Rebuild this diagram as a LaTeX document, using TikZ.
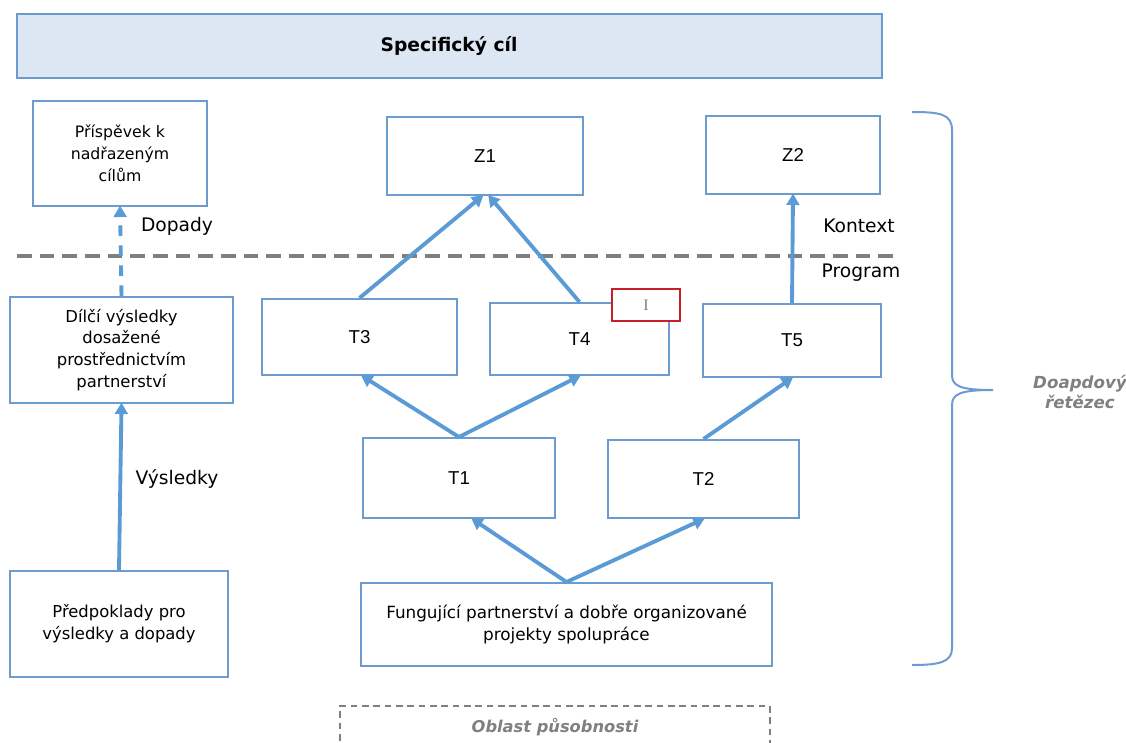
\documentclass[tikz,border=0pt]{standalone}
\usepackage{fontspec}
\setmainfont{DejaVu Sans}
\newfontfamily\arialfont{Liberation Sans}
\newfontfamily\seriffont{Liberation Serif}
\usetikzlibrary{arrows.meta,fit,decorations.pathreplacing}
\definecolor{boxblue}{HTML}{6B9BCF}
\definecolor{arrowblue}{HTML}{5B9BD5}
\definecolor{topfill}{HTML}{DCE7F3}
\definecolor{dashgray}{HTML}{7F7F7F}
\definecolor{redbox}{HTML}{C8202A}
\definecolor{txtgray}{HTML}{808080}
\tikzset{
  box/.style={draw=boxblue, line width=1.5pt, fill=white, inner sep=0pt, align=center, text=black},
  btxt/.style={align=center, font=\fontsize{12.3}{16.3}\selectfont},
  ttxt/.style={font=\arialfont\fontsize{14}{16}\selectfont},
  arr/.style={draw=arrowblue, line width=2.9pt, -{Triangle[length=8.5pt,width=9.5pt]}, shorten >=-1pt},
  darr/.style={arr, dash pattern=on 8pt off 7pt},
  lbl/.style={font=\fontsize{14}{16}\selectfont, text=black},
}
\begin{document}
\begin{tikzpicture}[x=0.75pt,y=-0.75pt]
\useasboundingbox (0,0) rectangle (1126,742);
\clip (0,0) rectangle (1126,742);
% top goal
\node[box, fill=topfill, fit={(17,14) (882,78)}] (top) {};
\node[font=\fontsize{14}{16}\selectfont\bfseries] (toptxt) at (449,46) {Specifický cíl};
% left column
\node[box, fit={(33,101) (207,206)}] (pris) {};
\node[btxt, font=\fontsize{11.8}{16.3}\selectfont] (pristxt) at (pris.center) {Příspěvek k\\nadřazeným\\cílům};
\node[box, fit={(10,297) (233,403)}] (dilci) {};
\node[btxt] (dilcitxt) at (dilci.center) {Dílčí výsledky\\dosažené\\prostřednictvím\\partnerství};
\node[box, fit={(10,571) (228,677)}] (pred) {};
\node[btxt] (predtxt) at (pred.center) {Předpoklady pro\\výsledky a dopady};
% goals
\node[box, fit={(387,117) (583,195)}] (z1) {};
\node[ttxt] (z1t) at (z1.center) {Z1};
\node[box, fit={(706,116) (880,194)}] (z2) {};
\node[ttxt] (z2t) at (z2.center) {Z2};
% T boxes
\node[box, fit={(262,299) (457,375)}] (t3) {};
\node[ttxt] (t3t) at (t3.center) {T3};
\node[box, fit={(490,303) (669,375)}] (t4) {};
\node[ttxt] (t4t) at (t4.center) {T4};
\node[box, fit={(703,304) (881,377)}] (t5) {};
\node[ttxt] (t5t) at (t5.center) {T5};
\node[box, fit={(363,438) (555,518)}] (t1) {};
\node[ttxt] (t1t) at (t1.center) {T1};
\node[box, fit={(608,440) (799,518)}] (t2) {};
\node[ttxt] (t2t) at (t2.center) {T2};
\node[box, fit={(361,583) (772,666)}] (fung) {};
\node[align=center, font=\fontsize{12.6}{17}\selectfont] (fungt) at (fung.center) {Fungující partnerství a dobře organizované\\projekty spolupráce};
% red marker box
\node[draw=redbox, line width=1.5pt, fill=white, inner sep=0pt, fit={(612,289) (680,321)}] (red) {};
\node[font=\seriffont\fontsize{12}{14}\selectfont, text=txtgray] (redt) at (red.center) {I};
% dashed separator
\coordinate (sepL) at (17,256);
\coordinate (sepR) at (900,256);
\draw[dashgray, line width=3pt, dash pattern=on 11pt off 6pt] (sepL) -- (sepR);
% labels
\node[lbl] (dopady) at (177,226) {Dopady};
\node[lbl] (vysl) at (177,479) {Výsledky};
\node[lbl] (kontext) at (859,226) {Kontext};
\node[lbl] (program) at (861,273) {Program};
% arrows
\draw[darr] (dilci.north) -- (pris.south);
\draw[arr] (pred.north) -- (dilci.south);
\draw[arr] (t3.north) -- ([xshift=-2pt]z1.south);
\draw[arr] (t4.north) -- ([xshift=3pt]z1.south);
\draw[arr] (t5.north) -- (z2.south);
\draw[arr] (t1.north) -- ([xshift=2pt]t3.south);
\draw[arr] (t1.north) -- (t4.south);
\draw[arr] (t2.north) -- (t5.south);
\draw[arr] (fung.north) -- ([xshift=10pt]t1.south);
\draw[arr] (fung.north) -- (t2.south);
% brace
\coordinate (brT) at (912,112);
\coordinate (brB) at (912,665);
\draw[boxblue, line width=1.5pt] (brT) .. controls (940,112) and (952,114) .. (952,130)
  -- (952,375) .. controls (952,386) and (960,390) .. (993,390)
  .. controls (960,390) and (952,394) .. (952,405)
  -- (952,648) .. controls (952,662) and (940,665) .. (brB);
\node[align=center, text=txtgray, font=\fontsize{12.5}{15}\selectfont\bfseries\itshape] (chain) at (1080,392) {Doapdový\\řetězec};
% scope box
\node[draw=dashgray, line width=1.2pt, dash pattern=on 5pt off 3.5pt, inner sep=0pt, fit={(340,706) (770,770)}] (oblast) {};
\node[text=txtgray, font=\fontsize{12.2}{14}\selectfont\bfseries\itshape] (oblastt) at (555,727) {Oblast působnosti};
\end{tikzpicture}
\end{document}
